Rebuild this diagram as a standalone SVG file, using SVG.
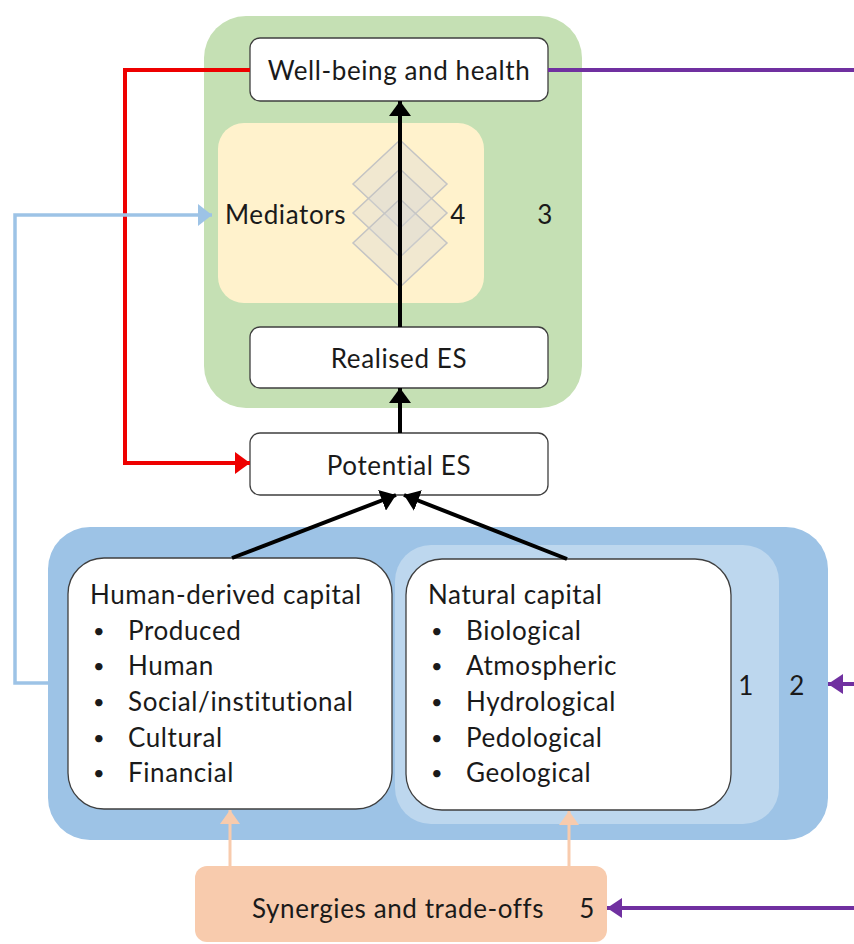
<svg xmlns="http://www.w3.org/2000/svg" width="854" height="944" viewBox="0 0 854 944">
<style>
text{font-family:Lato,"Open Sans","Liberation Sans",sans-serif;fill:#1a1a1a;dominant-baseline:central}
.lbl{font-size:26px;letter-spacing:0.6px}
.bul{font-size:20px}
.box{fill:#fff;stroke:#3f3f3f;stroke-width:1.3}
.dia{fill:#d6d6d6;fill-opacity:0.35;stroke:#c4c4c4;stroke-width:1.5}
.blk{stroke:#000;stroke-width:4;fill:none}
.red{stroke:#ee0000;stroke-width:4;fill:none}
.pur{stroke:#7030a0;stroke-width:4;fill:none}
.lb{stroke:#9dc3e6;stroke-width:3.5;fill:none}
.pch{stroke:#f8cbad;stroke-width:3;fill:none}
</style>
<defs>
<marker id="mBlk" viewBox="0 0 15 22" refX="15" refY="11" markerWidth="15" markerHeight="22" markerUnits="userSpaceOnUse" orient="auto"><path d="M0,0 L15,11 L0,22 z" fill="#000"/></marker>
<marker id="mRed" viewBox="0 0 15 22" refX="15" refY="11" markerWidth="15" markerHeight="22" markerUnits="userSpaceOnUse" orient="auto"><path d="M0,0 L15,11 L0,22 z" fill="#ee0000"/></marker>
<marker id="mPur" viewBox="0 0 15 20" refX="15" refY="10" markerWidth="15" markerHeight="20" markerUnits="userSpaceOnUse" orient="auto"><path d="M0,0 L15,10 L0,20 z" fill="#7030a0"/></marker>
<marker id="mLb" viewBox="0 0 14 22" refX="14" refY="11" markerWidth="14" markerHeight="22" markerUnits="userSpaceOnUse" orient="auto"><path d="M0,0 L14,11 L0,22 z" fill="#9dc3e6"/></marker>
<marker id="mPch" viewBox="0 0 14 20" refX="14" refY="10" markerWidth="14" markerHeight="20" markerUnits="userSpaceOnUse" orient="auto"><path d="M0,0 L14,10 L0,20 z" fill="#f8cbad"/></marker>
</defs>

<g id="group3">
<rect x="204" y="16" width="378" height="392" rx="42" fill="#c5e0b4"/>
<text class="lbl" x="545" y="214" text-anchor="middle">3</text>
</g>
<g id="mediators">
<rect x="218" y="123" width="266" height="180" rx="26" fill="#fff2cc"/>
<polygon class="dia" points="400,140 447,184 400,228 353,184"/>
<polygon class="dia" points="400,169 447,213 400,257 353,213"/>
<polygon class="dia" points="400,199 447,243 400,287 353,243"/>
<text class="lbl" x="225" y="214">Mediators</text>
<text class="lbl" x="458" y="214" text-anchor="middle">4</text>
</g>

<g id="group2">
<rect x="48" y="527" width="780" height="313" rx="42" fill="#9dc3e6"/>
<text class="lbl" x="797" y="685" text-anchor="middle">2</text>
</g>
<g id="group1">
<rect x="395" y="545" width="384" height="279" rx="36" fill="#bdd7ee"/>
<text class="lbl" x="746" y="685" text-anchor="middle">1</text>
</g>

<g id="wellbeing">
<rect class="box" x="250" y="38" width="298" height="63" rx="10"/>
<text class="lbl" x="399" y="70" text-anchor="middle">Well-being and health</text>
</g>
<g id="realised">
<rect class="box" x="250" y="327" width="298" height="61" rx="10"/>
<text class="lbl" x="399" y="358" text-anchor="middle">Realised ES</text>
</g>
<g id="potential">
<rect class="box" x="250" y="433" width="298" height="62" rx="10"/>
<text class="lbl" x="399" y="465" text-anchor="middle">Potential ES</text>
</g>

<g id="human">
<rect class="box" x="68" y="558" width="324" height="251" rx="36"/>
<text class="lbl" x="90" y="594">Human-derived capital</text>
<text class="bul" x="93" y="630">•</text><text class="lbl" x="128" y="630">Produced</text>
<text class="bul" x="93" y="665">•</text><text class="lbl" x="128" y="665">Human</text>
<text class="bul" x="93" y="701">•</text><text class="lbl" x="128" y="701">Social/institutional</text>
<text class="bul" x="93" y="737">•</text><text class="lbl" x="128" y="737">Cultural</text>
<text class="bul" x="93" y="772">•</text><text class="lbl" x="128" y="772">Financial</text>
</g>
<g id="natural">
<rect class="box" x="406" y="559" width="325" height="251" rx="36"/>
<text class="lbl" x="428" y="594">Natural capital</text>
<text class="bul" x="431" y="630">•</text><text class="lbl" x="466" y="630">Biological</text>
<text class="bul" x="431" y="665">•</text><text class="lbl" x="466" y="665">Atmospheric</text>
<text class="bul" x="431" y="701">•</text><text class="lbl" x="466" y="701">Hydrological</text>
<text class="bul" x="431" y="737">•</text><text class="lbl" x="466" y="737">Pedological</text>
<text class="bul" x="431" y="772">•</text><text class="lbl" x="466" y="772">Geological</text>
</g>

<g id="synergies">
<rect x="195" y="866" width="412" height="76" rx="12" fill="#f8cbad"/>
<text class="lbl" x="252" y="908">Synergies and trade-offs</text>
<text class="lbl" x="587" y="908" text-anchor="middle">5</text>
</g>

<g id="connectors">
<line class="blk" x1="400" y1="327" x2="400" y2="101" marker-end="url(#mBlk)"/>
<line class="blk" x1="400" y1="433" x2="400" y2="388" marker-end="url(#mBlk)"/>
<line class="blk" x1="232" y1="558" x2="396" y2="495" marker-end="url(#mBlk)"/>
<line class="blk" x1="567" y1="559" x2="404" y2="495" marker-end="url(#mBlk)"/>
<polyline class="red" points="250,70 125,70 125,463 250,463" marker-end="url(#mRed)"/>
<line class="pur" x1="548" y1="70" x2="854" y2="70"/>
<line class="pur" x1="854" y1="684" x2="828" y2="684" marker-end="url(#mPur)"/>
<line class="pur" x1="854" y1="908" x2="607" y2="908" marker-end="url(#mPur)"/>
<polyline class="lb" points="48,683 15,683 15,215 212,215" marker-end="url(#mLb)"/>
<line class="pch" x1="230" y1="866" x2="230" y2="810" marker-end="url(#mPch)"/>
<line class="pch" x1="569" y1="866" x2="569" y2="811" marker-end="url(#mPch)"/>
</g>
</svg>
